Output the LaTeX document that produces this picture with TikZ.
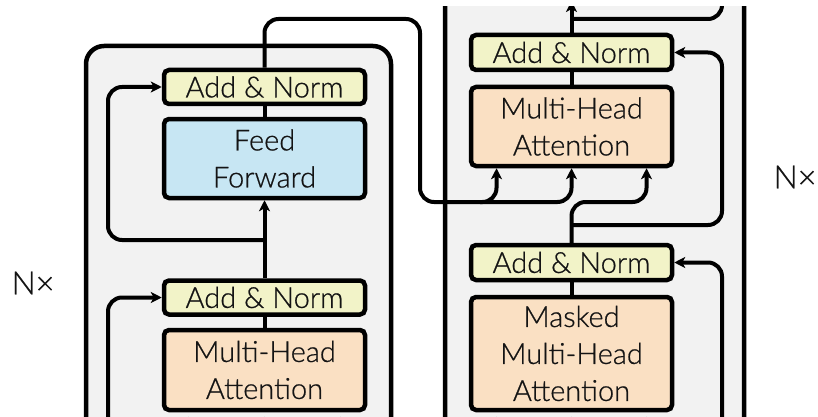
\documentclass[tikz,border=0pt]{standalone}
\usepackage{fontspec}
\IfFontExistsTF{Lato Light}{\setmainfont{Lato Light}[FakeBold=0.7]}{\setmainfont{Lato}}
\usetikzlibrary{arrows.meta}
\definecolor{normfill}{RGB}{242,243,200}
\definecolor{fffill}{RGB}{199,230,243}
\definecolor{attfill}{RGB}{250,224,195}
\definecolor{stackfill}{RGB}{242,242,242}
\definecolor{inkcol}{RGB}{20,20,20}
\tikzset{
  blockbox/.style={draw=black, line width=4.5pt, rounded corners=5pt, inner sep=0pt,
    align=center, text=inkcol, font=\fontsize{29}{37}\selectfont, minimum width=201pt},
  normbox/.style={blockbox, fill=normfill, minimum height=34pt},
  ffbox/.style={blockbox, fill=fffill, minimum height=79pt},
  attbox/.style={blockbox, fill=attfill, minimum height=80pt},
  stackbox/.style={draw=black, line width=4.5pt, fill=stackfill, rounded corners=18pt},
  conn/.style={draw=black, line width=4pt},
  arr/.style={conn, -{Stealth[length=11pt,width=11pt,inset=3pt]}},
  nxlabel/.style={text=inkcol, font=\fontsize{32}{36}\selectfont, inner sep=0pt},
}
\begin{document}
\begin{tikzpicture}[x=1pt,y=-1pt]
\useasboundingbox (0,0) rectangle (818,417);
\begin{scope}
\clip (0,7) rectangle (818,417);
% encoder and decoder stacks
\draw[stackbox] (86,46) rectangle (391,480);
\draw[stackbox] (445,-60) rectangle (744,480);

% encoder layer
\node[normbox] (encN2) at (264.5,87) {Add \& Norm};
\node[ffbox] (encFF) at (264.5,158.5) {Feed\\Forward};
\node[normbox] (encN1) at (264.5,297.5) {Add \& Norm};
\node[attbox] (encAtt) at (264.5,370) {Multi-Head\\Attention};

% decoder layer
\node[normbox, minimum height=35pt] (decN2) at (571.5,52.5) {Add \& Norm};
\node[attbox, minimum height=79pt] (decAtt) at (571.5,126.5) {Multi-Head\\Attention};
\node[normbox, minimum height=35pt] (decN1) at (571.5,262.5) {Add \& Norm};
\node[attbox, minimum height=113pt] (decMAtt) at (571.5,353.5) {Masked\\Multi-Head\\Attention};

% encoder connections
\draw[conn] (encAtt.north) -- (encN1.south);
\draw[arr] (encN1.north) -- (encFF.south);
\draw[conn] (encFF.north) -- (encN2.south);
\coordinate (encB) at (264.5,240);
\draw[arr, rounded corners=14pt] (encB) -- (108,240) -- (108,87) -- (encN2.west);
\draw[arr, rounded corners=14pt] (108,480) -- (108,297.5) -- (encN1.west);
\foreach \dx in {-76,0,76}
  \draw[arr, shorten >=4.5pt] ([xshift=\dx pt]encAtt.south) ++(0,60) -- ([xshift=\dx pt]encAtt.south);

% encoder output into decoder attention
\draw[arr, rounded corners=14pt] (encN2.north) -- (264.5,19) -- (420,19) -- (420,202)
  -- (496.5,202) -- ([xshift=-75pt]decAtt.south);
\coordinate (encO) at (480,202);
\draw[arr, rounded corners=14pt] (encO) -- (571.5,202) -- (decAtt.south);

% decoder connections
\draw[conn] (decMAtt.north) -- (decN1.south);
\draw[arr, rounded corners=14pt] (decN1.north) -- (571.5,202) -- (646.5,202)
  -- ([xshift=75pt]decAtt.south);
\coordinate (decB) at (571.5,225);
\draw[arr, rounded corners=14pt] (decB) -- (722,225) -- (722,52.5) -- (decN2.east);
\draw[arr, rounded corners=14pt] (722,480) -- (722,262.5) -- (decN1.east);
\foreach \dx in {-75,0,75}
  \draw[arr, shorten >=4.5pt] ([xshift=\dx pt]decMAtt.south) ++(0,60) -- ([xshift=\dx pt]decMAtt.south);
\draw[conn] (decAtt.north) -- (decN2.south);
\coordinate (decTop) at (571.5,1);
\draw[arr] (decN2.north) -- (decTop);
\coordinate (decC) at (571.5,19);
\draw[conn, rounded corners=14pt] (decC) -- (722,19) -- (722,-30);
\end{scope}

% repetition labels
\node[nxlabel] (nxL) at (33,283) {N×};
\node[nxlabel] (nxR) at (795,177) {N×};
\end{tikzpicture}
\end{document}
